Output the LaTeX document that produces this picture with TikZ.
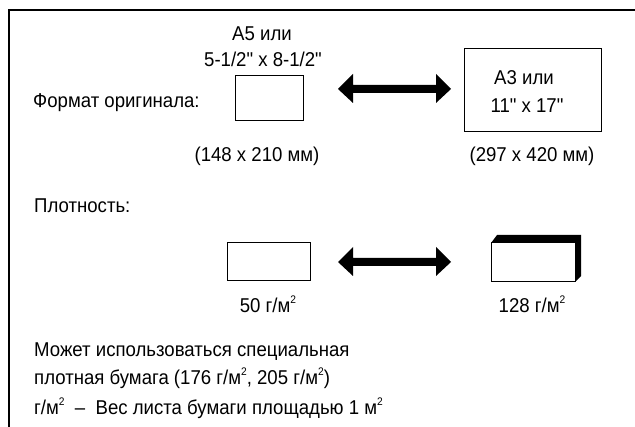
\documentclass[tikz,border=0pt]{standalone}
\usepackage{fontspec}
\usetikzlibrary{calc}
\setmainfont{Liberation Sans}[FakeStretch=0.93]
\newfontfamily\qtfont{Liberation Sans}[FakeStretch=0.93,Ligatures=TeXOff]
\newcommand{\sqr}{\raisebox{0.45em}{\fontsize{11}{11}\selectfont 2}}
\newcommand{\qt}{{\qtfont\symbol{34}}}
\begin{document}
\begin{tikzpicture}[x=1pt,y=-1pt,
  txt/.style={inner sep=0pt,font=\fontsize{20}{22}\selectfont},
  paper/.style={draw,line width=1pt,fill=white},
  bigarrow/.style={fill=black}]
\useasboundingbox (0,0) rectangle (635,427);
% frame
\draw[line width=2pt] (9,427) -- (9,10) -- (635,10);
% format row
\node[txt,anchor=base] (a5) at (262,41) {A5 или};
\node[txt,anchor=base] (a5in) at (263,67) {5-1/2\qt{} x 8-1/2\qt};
\node[txt,anchor=base west] (fmt) at (33,108) {Формат оригинала:};
\node[paper,minimum width=68pt,minimum height=45pt,inner sep=0pt] (smallbox) at (269,98.5) {};
\node[txt,anchor=base] (a5mm) at (257,162) {(148 x 210 мм)};
\node[paper,minimum width=137pt,minimum height=83pt,inner sep=0pt] (bigbox) at (532.5,90.5) {};
\node[txt,anchor=base] (a3) at (524,85) {A3 или};
\node[txt,anchor=base] (a3in) at (527,113) {11\qt{} x 17\qt};
\node[txt,anchor=base] (a3mm) at (532,162) {(297 x 420 мм)};
\coordinate (ar1) at (394.5,89);
\fill[bigarrow] ($(ar1)+(-56.5,0)$) -- ++(15,-15) -- ++(0,11) -- ++(83,0) -- ++(0,-11) -- ++(15,15) -- ++(-15,14) -- ++(0,-10) -- ++(-83,0) -- ++(0,10) -- cycle;
% density row
\node[txt,anchor=base west] (dens) at (34,213) {Плотность:};
\node[paper,minimum width=83pt,minimum height=38pt,inner sep=0pt] (thin) at (268.5,262) {};
\node[txt,anchor=base] (g50) at (268,313) {50 г/м\sqr};
\coordinate (ar2) at (394.5,262);
\fill[bigarrow] ($(ar2)+(-56.5,0)$) -- ++(15,-15) -- ++(0,11) -- ++(83,0) -- ++(0,-11) -- ++(15,15) -- ++(-15,14) -- ++(0,-10) -- ++(-83,0) -- ++(0,10) -- cycle;
\fill (491,243) -- (497,235) -- (581,235) -- (581,276) -- (575,282) -- (575,243) -- cycle;
\node[paper,minimum width=84pt,minimum height=39pt,inner sep=0pt] (thick) at (533,262.5) {};
\node[txt,anchor=base] (g128) at (532,313) {128 г/м\sqr};
% notes
\node[txt,anchor=base west] (note1) at (34,357) {Может использоваться специальная};
\node[txt,anchor=base west] (note2) at (34,385) {плотная бумага (176 г/м\sqr, 205 г/м\sqr)};
\node[txt,anchor=base west] (note3) at (34,415) {г/м\sqr\ \ –\ \ Вес листа бумаги площадью 1 м\sqr};
\end{tikzpicture}
\end{document}
